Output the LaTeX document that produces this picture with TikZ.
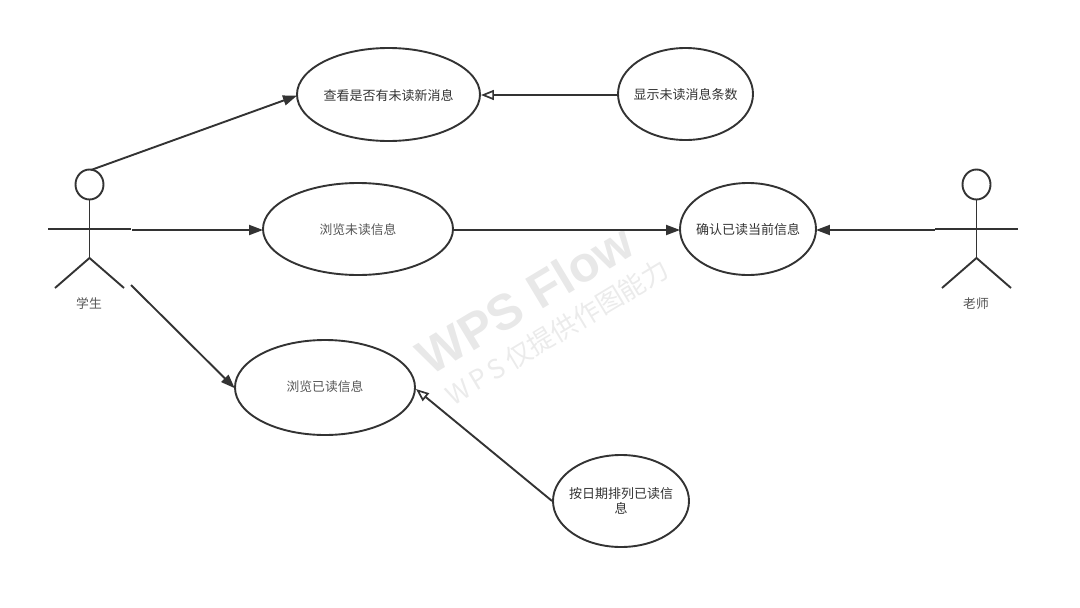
\documentclass[tikz,border=0pt]{standalone}
\usepackage{fontspec}
\setmainfont{Noto Sans CJK SC}
\newfontfamily\latinbold{Liberation Sans}[BoldFont={Liberation Sans Bold}]
\usetikzlibrary{arrows.meta,shapes.geometric}
\definecolor{Line}{RGB}{51, 51, 51}
\definecolor{Mark}{RGB}{232, 232, 232}
\definecolor{Soft}{RGB}{85, 85, 85}
\newcommand{\lowered}[1]{\raisebox{-1pt}[\height][\depth]{#1}}

\tikzset{
    usecase/.style={draw=Line, line width=1.9pt, shape=ellipse, inner xsep=-20pt, inner ysep=0pt, align=center, font=\fontsize{13}{14}\selectfont, text=Line},
    softcase/.style={usecase, font=\fontsize{12.8}{14}\selectfont, text=Soft},
    actorname/.style={font=\fontsize{12.8}{14}\selectfont, text=Soft},
    stick/.style={draw=Line, line width=1.9pt},
    solidarrow/.style={stick, -{Triangle[length=14pt, width=10pt]}, shorten >=-1pt},
    openarrow/.style={stick, -{Triangle[open, length=13pt, width=10pt, line width=1.7pt]}},
}

\begin{document}
\begin{tikzpicture}[x=1pt, y=-1pt]
    %%Background
    \useasboundingbox (0,0) rectangle (1080,608);

    %% Watermark
    \node[rotate=31, text=Mark, font=\latinbold\bfseries\fontsize{50}{52}\selectfont] (markbig) at (525,299) {WPS Flow};
    \node[rotate=31, text=Mark!85, font=\fontsize{26.5}{29}\selectfont] (marksmall) at (557,332) {W\,P\,S\,仅提供作图能力};

    %% Use cases
    \node[usecase, minimum width=183pt, minimum height=93pt] (checkmsg) at (388.5,94.5) {\lowered{查看是否有未读新消息}};
    \node[usecase, minimum width=135pt, minimum height=92pt] (showcount) at (685.5,94) {\lowered{显示未读消息条数}};
    \node[softcase, minimum width=190pt, minimum height=92pt] (browseunread) at (358,229) {\lowered{浏览未读信息}};
    \node[usecase, minimum width=136pt, minimum height=92pt] (confirm) at (748,229) {\lowered{确认已读当前信息}};
    \node[softcase, minimum width=180pt, minimum height=95pt] (browseread) at (325,387.5) {\raisebox{2pt}{浏览已读信息}};
    \node[usecase, minimum width=136pt, minimum height=92pt] (sortdate) at (621,501) {按日期排列已读信\\[1.5pt]息};

    %% Student
    \node[stick, shape=ellipse, inner sep=0pt, minimum width=28pt, minimum height=30pt] (studenthead) at (89.5,184.5) {};
    \coordinate (studenthip) at (89.5,258);
    \draw[stick] (studenthead.south) to (studenthip);
    \draw[stick] (48,229) to (131,229);
    \draw[stick] (55,288) to (studenthip) to (124,288);
    \node[actorname] (studentname) at (89,304) {学生};

    %% Teacher
    \node[stick, shape=ellipse, inner sep=0pt, minimum width=28pt, minimum height=30pt] (teacherhead) at (976.5,184.5) {};
    \coordinate (teacherhip) at (976.5,258);
    \draw[stick] (teacherhead.south) to (teacherhip);
    \draw[stick] (935,229) to (1018,229);
    \draw[stick] (942,288) to (teacherhip) to (1011,288);
    \node[actorname] (teachername) at (976,304) {老师};

    %% Connectors
    \coordinate (studentneck) at (91,170);
    \coordinate (studentarm) at (132,230);
    \coordinate (studentleg) at (131,285);
    \coordinate (teacherarm) at (935,230);
    \draw[solidarrow] (studentneck) to (checkmsg.west |- 0,96);
    \draw[openarrow] (showcount.west |- 0,95) to (checkmsg.east |- 0,95);
    \draw[solidarrow] (studentarm) to (browseunread.west |- 0,230);
    \draw[solidarrow] (browseunread.east |- 0,230) to (confirm.west |- 0,230);
    \draw[solidarrow] (teacherarm) to (confirm.east |- 0,230);
    \draw[solidarrow] (studentleg) to (browseread.west);
    \draw[openarrow] (sortdate.west) to (browseread.east |- 0,389);
\end{tikzpicture}
\end{document}
